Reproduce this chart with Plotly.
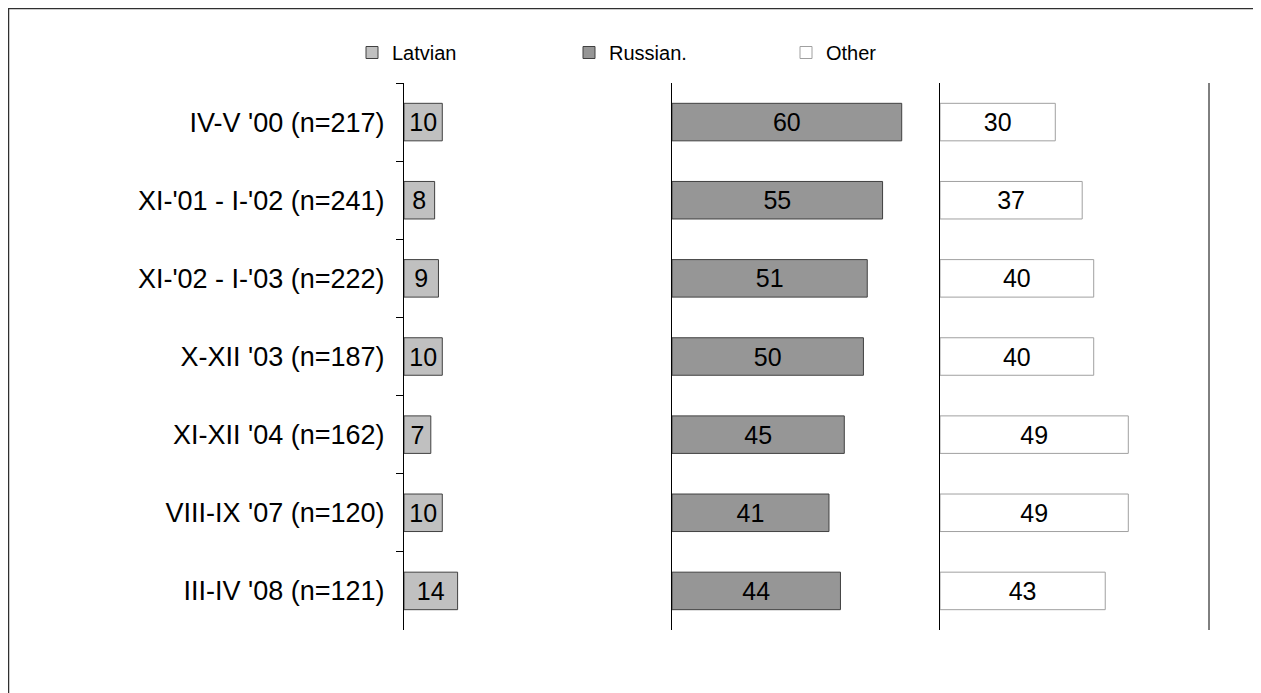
import plotly.graph_objects as go

categories = ["IV-V '00 (n=217)", "XI-'01 - I-'02 (n=241)", "XI-'02 - I-'03 (n=222)",
              "X-XII '03 (n=187)", "XI-XII '04 (n=162)", "VIII-IX '07 (n=120)",
              "III-IV '08 (n=121)"]
latvian = [10, 8, 9, 10, 7, 10, 14]
russian = [60, 55, 51, 50, 45, 41, 44]
other = [30, 37, 40, 40, 49, 49, 43]
series_names = ["Latvian", "Russian.", "Other"]
series_colors = ["#C0C0C0", "#969696", "#FFFFFF"]
line_colors = ["#404040", "#404040", "#A0A0A0"]

W, H = 1261, 693
FONT = "Arial, Liberation Sans, sans-serif"
OFF = 8  # page body margin


def px_x(p):
    return (p - OFF) / W


def px_y(p):
    return 1 - (p - OFF) / H


fig = go.Figure()
values = [latvian, russian, other]
axes = ["x", "x2", "x3"]
yaxes = ["y", "y2", "y3"]
for i in range(3):
    fig.add_trace(go.Bar(
        y=categories, x=values[i], orientation="h", name=series_names[i],
        xaxis=axes[i], yaxis=yaxes[i],
        marker=dict(color=series_colors[i], line=dict(color=line_colors[i], width=1)),
        text=[str(v) for v in values[i]], textposition="inside",
        insidetextanchor="middle", textangle=0,
        textfont=dict(family=FONT, size=25, color="black"),
        width=0.48, cliponaxis=False,
    ))

bounds = [404, 672, 940, 1209]
ydom = [px_y(630), px_y(83)]
layout = dict(
    width=W, height=H,
    margin=dict(l=0, r=0, t=0, b=0),
    paper_bgcolor="white", plot_bgcolor="rgba(0,0,0,0)",
    showlegend=True,
    font=dict(family=FONT, size=20, color="black"),
    uniformtext=dict(minsize=8, mode="show"),
    legend=dict(orientation="h", x=px_x(352), y=px_y(33), xanchor="left", yanchor="top",
                entrywidth=172, entrywidthmode="pixels", traceorder="normal",
                font=dict(family=FONT, size=20, color="black"), itemwidth=30,
                bgcolor="rgba(0,0,0,0)"),
)
for i in range(3):
    xa = "xaxis" if i == 0 else f"xaxis{i+1}"
    ya = "yaxis" if i == 0 else f"yaxis{i+1}"
    layout[xa] = dict(domain=[px_x(bounds[i]), px_x(bounds[i + 1])], range=[0, 70],
                      anchor=yaxes[i], showgrid=False, zeroline=False,
                      showticklabels=False, ticks="", showline=False, fixedrange=True)
    ydict = dict(domain=ydom, anchor=axes[i], type="category",
                 categoryorder="array", categoryarray=categories,
                 autorange="reversed", showgrid=False, zeroline=False,
                 showline=True, linecolor="black", linewidth=1)
    if i == 0:
        ydict.update(ticks="outside", ticklen=7, tickcolor="black", tickwidth=1,
                     tickson="boundaries", showticklabels=True,
                     tickfont=dict(family=FONT, size=27, color="black"), ticklabelstandoff=13)
    else:
        ydict.update(ticks="", showticklabels=False, matches="y")
    layout[ya] = ydict
fig.update_layout(**layout)

# right boundary line of the last panel
fig.add_shape(type="line", xref="paper", yref="paper",
              x0=px_x(1209), x1=px_x(1209), y0=ydom[0], y1=ydom[1],
              line=dict(color="black", width=1))
# outer frame (extends beyond the visible window on right and bottom)
fig.add_shape(type="rect", xref="paper", yref="paper",
              x0=0.5 / W, x1=1.05, y0=-0.1, y1=1 - 0.5 / H,
              line=dict(color="#303030", width=1.5), fillcolor="rgba(0,0,0,0)")

fig.write_html("out.html")
